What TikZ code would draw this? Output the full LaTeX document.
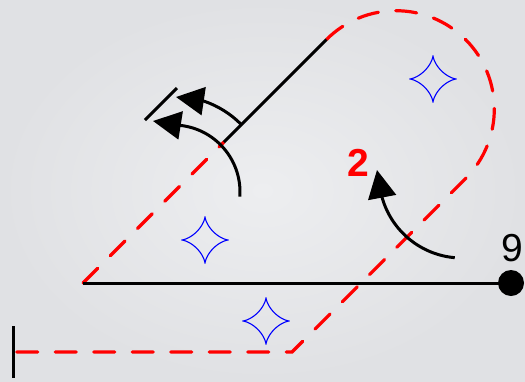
\documentclass[tikz,border=0pt]{standalone}
\usepackage{fontspec}
\setmainfont{Liberation Sans}
\usetikzlibrary{arrows.meta}
\definecolor{bgin}{HTML}{EDEEF0}
\definecolor{bgout}{HTML}{E0E1E4}
\begin{document}
\begin{tikzpicture}[x=1pt,y=1pt,
  blk/.style={line width=3pt, draw=black},
  reddash/.style={draw=red, line width=3.2pt, line cap=round, dash pattern=on 21pt off 17.5pt},
  arr/.style={line width=3pt, draw=black, -{Triangle[length=28pt,width=28pt]}},
  starshape/.style={draw=blue, line width=1.1pt},
  digit/.style={inner sep=0pt, font=\fontsize{39}{39}\selectfont}
]
\shade[inner color=bgin, outer color=bgout] (0,0) rectangle (525,-381);
\useasboundingbox (0,0) rectangle (525,-381);

\coordinate (O) at (83,-283);
\coordinate (K) at (224,-142);
\coordinate (T1) at (326.5,-39.5);
\coordinate (B) at (292,-352);
\coordinate (L) at (13,-352);
\coordinate (P9) at (511,-283);
\coordinate (tickA) at (13,-326);
\coordinate (tickB) at (13,-378);
\coordinate (tickC) at (145,-120);
\coordinate (tickD) at (177,-88);
\coordinate (C1) at (173,-192);
\coordinate (C2) at (462,-175);

% red dashed outline
\draw[reddash] (O) -- (K);
\draw[reddash] (T1) arc[start angle=135,end angle=-45,radius=98.3] -- (B) -- (L);

% black lines
\draw[blk] (K) -- (T1);
\draw[blk] (O) -- (P9);
\fill[black] (P9) circle[radius=13];
\draw[blk] (tickA) -- (tickB);
\draw[blk] (tickC) -- (tickD);

% rotation arrows
\draw[arr] (C1) ++(-4:67) arc[start angle=-4,end angle=82,radius=67] -- (153,-121);
\draw[arr] (C1) ++(45:96) arc[start angle=45,end angle=71,radius=96] -- (176,-97);
\draw[arr] (C2) ++(265:83) arc[start angle=265,end angle=196,radius=83] -- (377,-170);

% stars
\foreach \cx/\cy in {433/-79, 205/-240, 266/-321}
  \draw[starshape] plot[domain=0:360,samples=121]
    ({\cx+23.5*cos(\x)*cos(\x)*cos(\x)},{\cy+23.5*sin(\x)*sin(\x)*sin(\x)}) -- cycle;

% labels
\node[digit] (nine) at (512,-248) {9};
\node[digit, text=red, font=\fontsize{39}{39}\selectfont\bfseries] (two) at (358,-163) {2};
\end{tikzpicture}
\end{document}
